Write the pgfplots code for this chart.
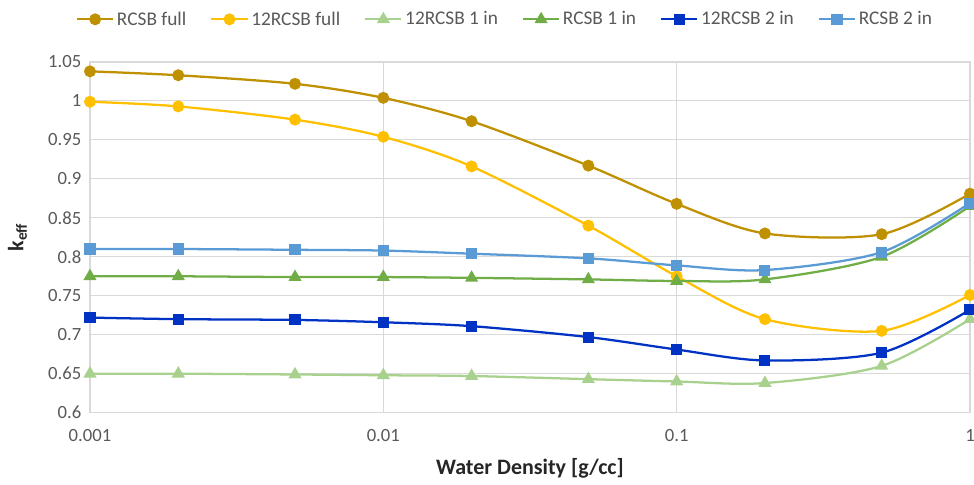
\documentclass[border=0pt]{standalone}
\usepackage{fontspec}
\setmainfont{Carlito}
\usepackage{pgfplots}
\pgfplotsset{compat=1.18}
\definecolor{cA}{HTML}{BF9000}
\definecolor{cB}{HTML}{FFC000}
\definecolor{cC}{HTML}{A9D18E}
\definecolor{cD}{HTML}{70AD47}
\definecolor{cE}{HTML}{0033C4}
\definecolor{cF}{HTML}{5B9BD5}
\definecolor{gridc}{HTML}{D9D9D9}
\definecolor{txt}{HTML}{595959}
\begin{document}
\begin{tikzpicture}
\begin{axis}[
  name=ax,
  scale only axis, width=660pt, height=263pt,
  xmode=log, xmin=0.001, xmax=1, ymin=0.6, ymax=1.05,
  log basis x=10,
  xtick={0.001,0.01,0.1,1}, xticklabels={0.001,0.01,0.1,1},
  minor xtick={},
  ytick={0.6,0.65,0.7,0.75,0.8,0.85,0.9,0.95,1,1.05},
  yticklabels={0.6,0.65,0.7,0.75,0.8,0.85,0.9,0.95,1,1.05},
  grid=major, major grid style={gridc, line width=0.8pt},
  axis line style={gridc, line width=0.8pt},
  tick style={draw=none},
  ticklabel style={font=\fontsize{14}{16}\selectfont, text=txt},
  /pgf/number format/assume math mode=true,
  xticklabel style={yshift=-9pt},
  yticklabel style={xshift=-3pt},
  xlabel={\textbf{Water Density [g/cc]}},
  xlabel style={font=\fontsize{16.5}{18}\selectfont, text=black!85, yshift=-6pt},
  ylabel={\textbf{k}\textsubscript{\textbf{eff}}},
  ylabel style={font=\fontsize{16.5}{18}\selectfont, text=black!85, yshift=9pt},
  legend columns=6,
  legend style={at={(0.472,1)}, anchor=center, yshift=32pt, draw=none, fill=none,
    font=\fontsize{14.5}{16}\selectfont, text=txt,
    /tikz/every even column/.append style={column sep=16pt}},
  legend image code/.code={
    \draw[#1, mark=none] (0cm,0cm) -- (0.95cm,0cm);
    \draw[#1, only marks] plot coordinates {(0.475cm,0cm)};
  },
  every axis plot/.append style={smooth, tension=0.5, line width=1.7pt},
]
\addplot[cA, mark=*, mark size=3.6pt] coordinates {
(0.001,1.038)(0.002,1.033)(0.005,1.022)(0.01,1.004)(0.02,0.974)(0.05,0.917)(0.1,0.868)(0.2,0.830)(0.5,0.829)(1,0.881)};
\addlegendentry{RCSB full}
\addplot[cB, mark=*, mark size=3.6pt] coordinates {
(0.001,0.999)(0.002,0.993)(0.005,0.976)(0.01,0.954)(0.02,0.916)(0.05,0.840)(0.1,0.775)(0.2,0.720)(0.5,0.705)(1,0.751)};
\addlegendentry{12RCSB full}
\addplot[cC, mark=triangle*, mark size=4pt] coordinates {
(0.001,0.650)(0.002,0.650)(0.005,0.649)(0.01,0.648)(0.02,0.647)(0.05,0.643)(0.1,0.640)(0.2,0.638)(0.5,0.660)(1,0.720)};
\addlegendentry{12RCSB 1 in}
\addplot[cD, mark=triangle*, mark size=4pt] coordinates {
(0.001,0.775)(0.002,0.775)(0.005,0.774)(0.01,0.774)(0.02,0.773)(0.05,0.771)(0.1,0.769)(0.2,0.771)(0.5,0.800)(1,0.865)};
\addlegendentry{RCSB 1 in}
\addplot[cE, mark=square*, mark size=3.3pt] coordinates {
(0.001,0.722)(0.002,0.720)(0.005,0.719)(0.01,0.716)(0.02,0.711)(0.05,0.697)(0.1,0.681)(0.2,0.667)(0.5,0.677)(1,0.732)};
\addlegendentry{12RCSB 2 in}
\addplot[cF, mark=square*, mark size=3.3pt] coordinates {
(0.001,0.810)(0.002,0.810)(0.005,0.809)(0.01,0.808)(0.02,0.804)(0.05,0.798)(0.1,0.789)(0.2,0.783)(0.5,0.806)(1,0.869)};
\addlegendentry{RCSB 2 in}
\end{axis}
\pgfresetboundingbox
\path[use as bounding box] ([shift={(-67.5pt,-54pt)}]ax.south west) rectangle ([shift={(3pt,46.5pt)}]ax.north east);
\end{tikzpicture}
\end{document}
